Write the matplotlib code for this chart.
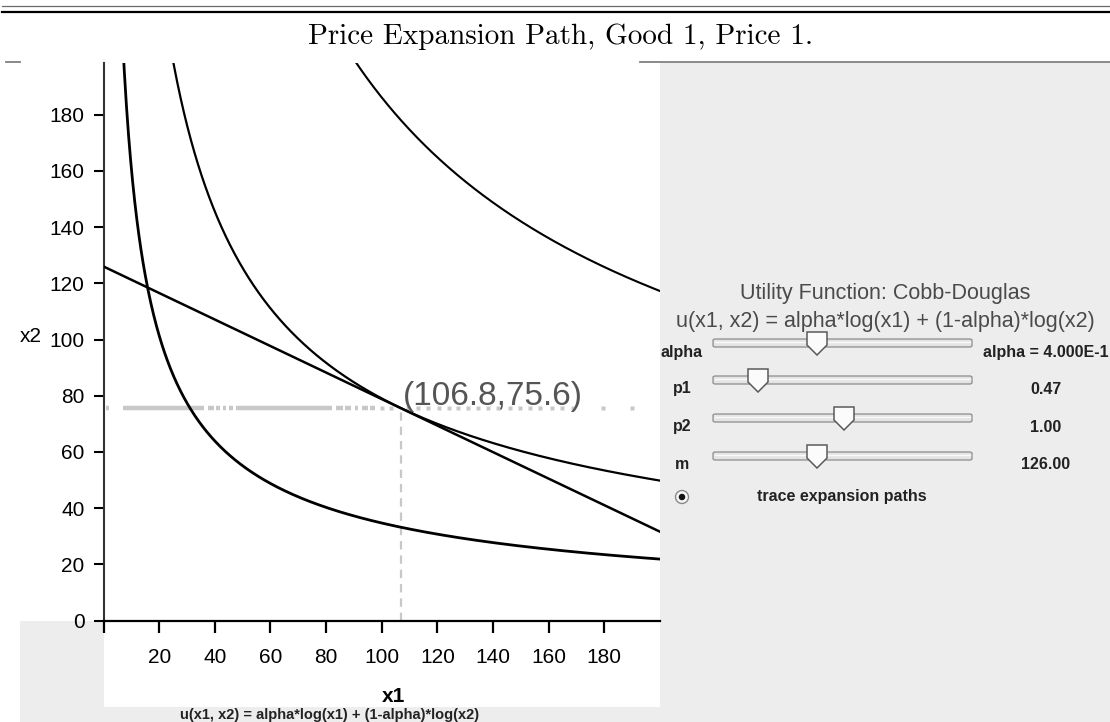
import matplotlib
matplotlib.use('Agg')
import matplotlib.pyplot as plt
import numpy as np
from matplotlib.patches import Rectangle, Polygon, Ellipse, FancyBboxPatch
from matplotlib.lines import Line2D

plt.rcParams['font.family'] = ['Liberation Sans', 'DejaVu Sans']
plt.rcParams['lines.scale_dashes'] = False

# ---------------- data ----------------
alpha = 0.4
p1 = 0.472
p2 = 1.0
m = 126.0
utility_levels = [3.97, 4.464, 4.978]          # three indifference curves
curve_widths = [2.0, 1.6, 1.5]
tangency = (106.8, 75.6)
x_ticks = [0, 20, 40, 60, 80, 100, 120, 140, 160, 180]
x_ticklabels = ['', '20', '40', '60', '80', '100', '120', '140', '160', '180']
y_ticks = [0, 20, 40, 60, 80, 100, 120, 140, 160, 180]
y_ticklabels = ['0', '20', '40', '60', '80', '100', '120', '140', '160', '180']
# traced price expansion path (x1 values at x2 = 75.6)
trace_runs = [(0.8, 2.0), (7.0, 36.0), (37.5, 39.8), (40.5, 41.8), (43.0, 44.2),
              (45.2, 46.4), (47.6, 82.3), (83.6, 86.2), (86.9, 89.0), (90.3, 91.6),
              (92.8, 95.2), (95.8, 97.6)]
trace_dots = [100.2, 103.2, 109.6, 113.2, 116.8, 120.4, 124.0, 127.5, 131.1,
              134.7, 138.3, 141.8, 146.1, 149.7, 153.3, 156.9, 161.2, 164.7,
              168.7, 179.4, 189.8]
slider_names = ['alpha', 'p1', 'p2', 'm']
slider_values = ['alpha = 4.000E-1', '0.47', '1.00', '126.00']

W, H = 1110, 722
fig = plt.figure(figsize=(W / 100, H / 100), dpi=100)
fig.patch.set_facecolor('white')


def fx(px):
    return px / W


def fy(py):
    return 1 - py / H


def add_rect(x0, y0, x1, y1, color, z=0):
    fig.patches.append(Rectangle((fx(x0), fy(y1)), (x1 - x0) / W, (y1 - y0) / H,
                                 transform=fig.transFigure, facecolor=color,
                                 edgecolor='none', zorder=z))


panel = '#ededed'
add_rect(20, 621, 1110, 722, panel)
add_rect(660, 62.5, 1110, 722, panel)
add_rect(103.5, 621, 660, 707, 'white', z=0.5)

# page rules
fig.add_artist(Line2D([fx(2), fx(1110)], [fy(5.5), fy(5.5)], color='#6a6a6a', lw=0.9))
fig.add_artist(Line2D([fx(2), fx(1110)], [fy(11.5), fy(11.5)], color='black', lw=1.6))
fig.add_artist(Line2D([fx(6), fx(20)], [fy(62), fy(62)], color='#808080', lw=1.3))
fig.add_artist(Line2D([fx(640), fx(1110)], [fy(62), fy(62)], color='#808080', lw=1.3))

fig.text(fx(560), fy(37), 'Price Expansion Path, Good 1, Price 1.', family='cmr10',
         size=21, ha='center', va='center')

# ---------------- main plot ----------------
ax = fig.add_axes([fx(103.5), fy(620.5), (660 - 103.5) / W, (620.5 - 62.5) / H])
ax.set_zorder(3)
ax.set_facecolor('white')
ax.set_xlim(0, 200)
ax.set_ylim(0, 198.6)
for s in ['top', 'right']:
    ax.spines[s].set_visible(False)
ax.spines['left'].set_color('#333333')
ax.spines['left'].set_linewidth(1.5)
ax.spines['bottom'].set_color('black')
ax.spines['bottom'].set_linewidth(1.6)

x1 = np.linspace(0.5, 200, 800)
for u, lw in zip(utility_levels, curve_widths):
    x2 = np.exp(u / (1 - alpha)) * x1 ** (-alpha / (1 - alpha))
    ax.plot(x1, x2, color='black', lw=lw, zorder=4)

xb = np.array([0, 200])
ax.plot(xb, (m - p1 * xb) / p2, color='black', lw=1.8, zorder=4)

trace_color = '#c8c8c8'
for a, b in trace_runs:
    ax.plot([a, b], [tangency[1], tangency[1]], color=trace_color, lw=3.2,
            solid_capstyle='butt', zorder=2)
ax.plot(trace_dots, [tangency[1]] * len(trace_dots), ls='none', marker='s',
        ms=3.0, mfc=trace_color, mec='none', zorder=2)
ax.plot([tangency[0], tangency[0]], [0, tangency[1]], color=trace_color, lw=1.6,
        ls=(0, (6, 4.3)), zorder=2)

ax.annotate('(%.1f,%.1f)' % tangency, xy=tangency, xytext=(1.5, 2.2),
            textcoords='offset points', ha='left', va='baseline', fontsize=24,
            color='#555555', zorder=5)

ax.set_xticks(x_ticks)
ax.set_xticklabels(x_ticklabels)
ax.set_yticks(y_ticks)
ax.set_yticklabels(y_ticklabels)
ax.tick_params(axis='x', direction='out', length=8.6, width=1.6, pad=11, labelsize=15,
               color='black')
ax.tick_params(axis='y', direction='out', length=7.2, width=1.5, pad=6.5, labelsize=15,
               color='black')
for lab in ax.get_yticklabels():
    lab.set_verticalalignment('center_baseline')

fig.text(fx(31), fy(337), 'x2', fontsize=15, ha='center', va='center')
fig.text(fx(394), fy(696), 'x1', fontsize=15, fontweight='bold', ha='center', va='center')
fig.text(fx(330), fy(718.5), 'u(x1, x2) = alpha*log(x1) + (1-alpha)*log(x2)', fontsize=10.5,
         fontweight='bold', ha='center', va='baseline', color='#222222')

# ---------------- control panel ----------------
fig.text(fx(885), fy(293), 'Utility Function: Cobb-Douglas', fontsize=15.5,
         color='#4a4a4a', ha='center', va='center')
fig.text(fx(885), fy(321), 'u(x1, x2) = alpha*log(x1) + (1-alpha)*log(x2)', fontsize=15.5,
         color='#4a4a4a', ha='center', va='center')

slider_y = [343, 380, 418, 456]
thumb_x = [817, 758, 844, 817]
for name, val, yc, tx in zip(slider_names, slider_values, slider_y, thumb_x):
    fig.patches.append(FancyBboxPatch((fx(713), fy(yc + 4)), 259 / W, 8 / H,
                                      boxstyle='round,pad=0,rounding_size=0.002',
                                      transform=fig.transFigure, facecolor='#e4e4e4',
                                      edgecolor='#8c8c8c', lw=0.9, zorder=2))
    fig.add_artist(Line2D([fx(715), fx(970)], [fy(yc - 1.5), fy(yc - 1.5)],
                          color='#fafafa', lw=1.0, zorder=2.1))
    pts = [(tx - 10, yc - 11), (tx + 10, yc - 11), (tx + 10, yc + 2), (tx, yc + 12),
           (tx - 10, yc + 2)]
    fig.patches.append(Polygon([(fx(a), fy(b)) for a, b in pts], closed=True,
                               transform=fig.transFigure, facecolor='#fbfbfb',
                               edgecolor='#5a5a5a', lw=1.1, zorder=3))
    fig.text(fx(682), fy(yc + 9), name, fontsize=11.5, fontweight='bold',
             color='#222222', ha='center', va='center')
    fig.text(fx(1046), fy(yc + 9), val, fontsize=11.5, fontweight='bold',
             color='#222222', ha='center', va='center')

fig.patches.append(Ellipse((fx(682), fy(497)), 13 / W, 13 / H, transform=fig.transFigure,
                           facecolor='#f6f6f6', edgecolor='#8a8a8a', lw=1.0, zorder=3))
fig.patches.append(Ellipse((fx(682), fy(497)), 6.5 / W, 6.5 / H, transform=fig.transFigure,
                           facecolor='#111111', edgecolor='none', zorder=4))
fig.text(fx(842), fy(497), 'trace expansion paths', fontsize=11.5, fontweight='bold',
         color='#222222', ha='center', va='center')

fig.savefig('out.png', dpi=100, facecolor=fig.get_facecolor())
